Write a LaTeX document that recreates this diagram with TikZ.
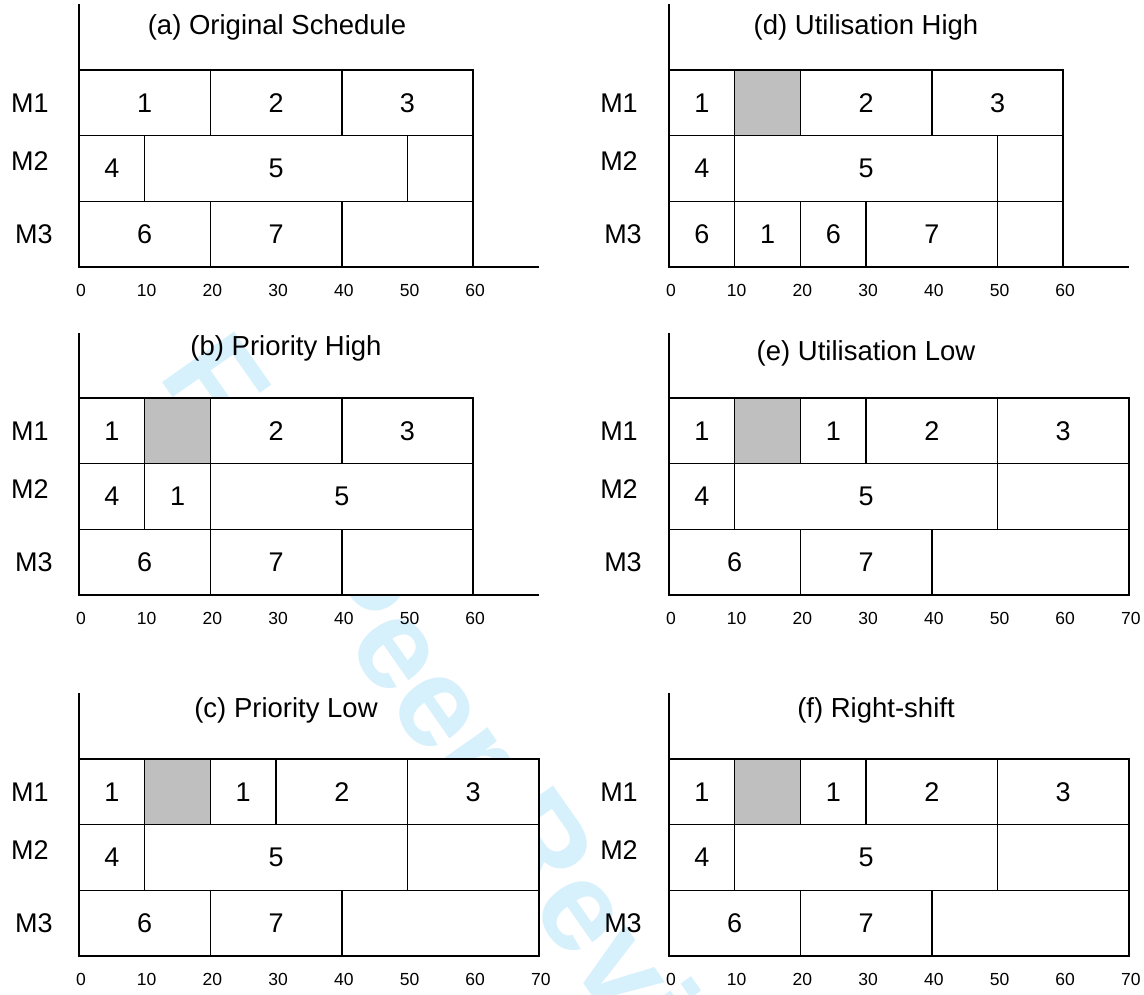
\documentclass[tikz,border=0pt]{standalone}
\usepackage{fontspec}
\setmainfont{Liberation Sans}
\definecolor{wmblue}{RGB}{214,240,252}
\definecolor{idlegray}{RGB}{191,191,191}
\newcommand{\uu}{6.57}
\newcommand{\hh}{65.7}
\newcommand{\jobcell}[6]{\node[jobbox, fill=#6, minimum width={(#3-#2)*\uu pt}, minimum height={\hh pt}] (#1) at ({(#2+#3)/2*\uu},{(#4+0.5)*\hh}) {#5};}
\newcommand{\ganttaxes}[3]{%
  \coordinate (#1-top) at (0,#2);
  \coordinate (#1-orig) at (0,{3*\hh});
  \coordinate (#1-end) at ({70*\uu},{3*\hh});
  \draw[axisline] (#1-top) -- (#1-orig) -- (#1-end);
  \foreach \t in {0,10,...,#3} {\node[ticklbl] (#1-tick\t) at ({\t*\uu+2},{3*\hh+23}) {\t};}
}
\newcommand{\mlabels}[2]{%
  \node[mlbl] (#1-m1) at (#2,{0.5*\hh}) {M1};
  \node[mlbl] (#1-m2) at (#2,{1.5*\hh-7}) {M2};
  \node[mlbl] (#1-m3) at ({#2+4},{2.5*\hh}) {M3};
}
\tikzset{
  jobbox/.style={draw=black, line width=1.5pt, inner sep=0pt, outer sep=0pt, font=\fontsize{27}{32}\selectfont},
  axisline/.style={draw=black, line width=1.4pt},
  ticklbl/.style={font=\fontsize{17.5}{20}\selectfont, inner sep=0pt},
  mlbl/.style={font=\fontsize{27}{32}\selectfont, inner sep=0pt},
  ttl/.style={font=\fontsize{27.5}{32}\selectfont, inner sep=0pt},
  watermark/.style={text=wmblue, font=\fontsize{128}{132}\selectfont\bfseries, inner sep=0pt}
}
\begin{document}
\begin{tikzpicture}[x=1pt,y=-1pt]
\useasboundingbox (0,0) rectangle (1144,994);
\clip (0,0) rectangle (1144,994);
\node[watermark, rotate=-55] (wm) at (481,757) {For Peer Review};

% (a)
\begin{scope}[shift={(79,70)}]
  \node[ttl] (a-title) at (198,-43) {(a) Original Schedule};
  \jobcell{a-11}{0}{20}{0}{1}{white}
  \jobcell{a-12}{20}{40}{0}{2}{white}
  \jobcell{a-13}{40}{60}{0}{3}{white}
  \jobcell{a-21}{0}{10}{1}{4}{white}
  \jobcell{a-22}{10}{50}{1}{5}{white}
  \jobcell{a-23}{50}{60}{1}{}{white}
  \jobcell{a-31}{0}{20}{2}{6}{white}
  \jobcell{a-32}{20}{40}{2}{7}{white}
  \jobcell{a-33}{40}{60}{2}{}{white}
  \ganttaxes{a}{-66}{60}
  \mlabels{a}{-49}
\end{scope}

% (b)
\begin{scope}[shift={(79,398)}]
  \node[ttl] (b-title) at (207,-50) {(b) Priority High};
  \jobcell{b-11}{0}{10}{0}{1}{white}
  \jobcell{b-12}{10}{20}{0}{}{idlegray}
  \jobcell{b-13}{20}{40}{0}{2}{white}
  \jobcell{b-14}{40}{60}{0}{3}{white}
  \jobcell{b-21}{0}{10}{1}{4}{white}
  \jobcell{b-22}{10}{20}{1}{1}{white}
  \jobcell{b-23}{20}{60}{1}{5}{white}
  \jobcell{b-31}{0}{20}{2}{6}{white}
  \jobcell{b-32}{20}{40}{2}{7}{white}
  \jobcell{b-33}{40}{60}{2}{}{white}
  \ganttaxes{b}{-65}{60}
  \mlabels{b}{-49}
\end{scope}

% (c)
\begin{scope}[shift={(79,759)}]
  \node[ttl] (c-title) at (207,-49) {(c) Priority Low};
  \jobcell{c-11}{0}{10}{0}{1}{white}
  \jobcell{c-12}{10}{20}{0}{}{idlegray}
  \jobcell{c-13}{20}{30}{0}{1}{white}
  \jobcell{c-14}{30}{50}{0}{2}{white}
  \jobcell{c-15}{50}{70}{0}{3}{white}
  \jobcell{c-21}{0}{10}{1}{4}{white}
  \jobcell{c-22}{10}{50}{1}{5}{white}
  \jobcell{c-23}{50}{70}{1}{}{white}
  \jobcell{c-31}{0}{20}{2}{6}{white}
  \jobcell{c-32}{20}{40}{2}{7}{white}
  \jobcell{c-33}{40}{70}{2}{}{white}
  \ganttaxes{c}{-66}{70}
  \mlabels{c}{-49}
\end{scope}

% (d)
\begin{scope}[shift={(669,70)}]
  \node[ttl] (d-title) at (197,-43) {(d) Utilisation High};
  \jobcell{d-11}{0}{10}{0}{1}{white}
  \jobcell{d-12}{10}{20}{0}{}{idlegray}
  \jobcell{d-13}{20}{40}{0}{2}{white}
  \jobcell{d-14}{40}{60}{0}{3}{white}
  \jobcell{d-21}{0}{10}{1}{4}{white}
  \jobcell{d-22}{10}{50}{1}{5}{white}
  \jobcell{d-23}{50}{60}{1}{}{white}
  \jobcell{d-31}{0}{10}{2}{6}{white}
  \jobcell{d-32}{10}{20}{2}{1}{white}
  \jobcell{d-33}{20}{30}{2}{6}{white}
  \jobcell{d-34}{30}{50}{2}{7}{white}
  \jobcell{d-35}{50}{60}{2}{}{white}
  \ganttaxes{d}{-66}{60}
  \mlabels{d}{-50}
\end{scope}

% (e)
\begin{scope}[shift={(669,398)}]
  \node[ttl] (e-title) at (197,-45) {(e) Utilisation Low};
  \jobcell{e-11}{0}{10}{0}{1}{white}
  \jobcell{e-12}{10}{20}{0}{}{idlegray}
  \jobcell{e-13}{20}{30}{0}{1}{white}
  \jobcell{e-14}{30}{50}{0}{2}{white}
  \jobcell{e-15}{50}{70}{0}{3}{white}
  \jobcell{e-21}{0}{10}{1}{4}{white}
  \jobcell{e-22}{10}{50}{1}{5}{white}
  \jobcell{e-23}{50}{70}{1}{}{white}
  \jobcell{e-31}{0}{20}{2}{6}{white}
  \jobcell{e-32}{20}{40}{2}{7}{white}
  \jobcell{e-33}{40}{70}{2}{}{white}
  \ganttaxes{e}{-65}{70}
  \mlabels{e}{-50}
\end{scope}

% (f)
\begin{scope}[shift={(669,759)}]
  \node[ttl] (f-title) at (207,-49) {(f) Right-shift};
  \jobcell{f-11}{0}{10}{0}{1}{white}
  \jobcell{f-12}{10}{20}{0}{}{idlegray}
  \jobcell{f-13}{20}{30}{0}{1}{white}
  \jobcell{f-14}{30}{50}{0}{2}{white}
  \jobcell{f-15}{50}{70}{0}{3}{white}
  \jobcell{f-21}{0}{10}{1}{4}{white}
  \jobcell{f-22}{10}{50}{1}{5}{white}
  \jobcell{f-23}{50}{70}{1}{}{white}
  \jobcell{f-31}{0}{20}{2}{6}{white}
  \jobcell{f-32}{20}{40}{2}{7}{white}
  \jobcell{f-33}{40}{70}{2}{}{white}
  \ganttaxes{f}{-66}{70}
  \mlabels{f}{-50}
\end{scope}
\end{tikzpicture}
\end{document}
